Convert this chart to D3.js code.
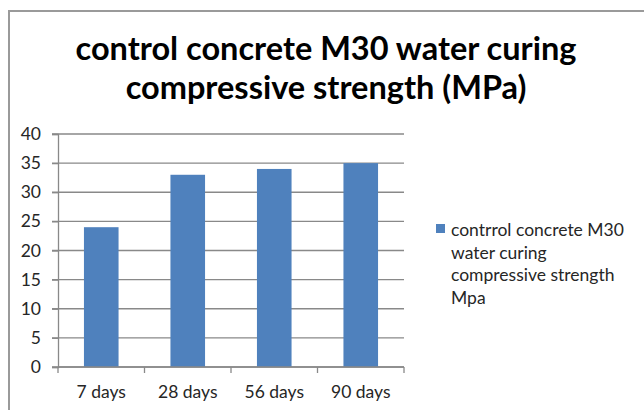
<!DOCTYPE html>
<html>
<head>
<meta charset="utf-8">
<script src="https://cdn.jsdelivr.net/npm/d3@7"></script>
<style>
  html, body { margin: 0; padding: 0; background: #fff; }
  svg { display: block; }
</style>
</head>
<body>
<svg id="chart" width="644" height="410"></svg>
<script>
const categories = ["7 days", "28 days", "56 days", "90 days"];
const values = [24, 33, 34, 35];
const yTicks = [0, 5, 10, 15, 20, 25, 30, 35, 40];
const titleLines = ["control concrete M30 water curing", "compressive strength (MPa)"];
const legendLines = ["contrrol concrete M30", "water curing", "compressive strength", "Mpa"];

const svg = d3.select("#chart");
const W = 644, H = 410;
const plot = { left: 58, right: 404, top: 134, bottom: 367 };
const barColor = "#4F81BD";
const gridColor = "#898989";
const font = "Lato, 'Open Sans', sans-serif";
const textColor = "#262626";

// chart frame
svg.append("rect")
  .attr("x", 9).attr("y", 11)
  .attr("width", W + 20).attr("height", H + 20)
  .attr("fill", "#fff")
  .attr("stroke", "#9a9a9a")
  .attr("stroke-width", 2);

// title
svg.append("g").selectAll("text")
  .data(titleLines)
  .join("text")
  .attr("x", 326)
  .attr("y", (d, i) => 60 + i * 39)
  .attr("text-anchor", "middle")
  .attr("font-family", font)
  .attr("font-weight", "bold")
  .attr("font-size", 32.5)
  .attr("fill", "#000")
  .text(d => d);

const x = d3.scaleBand()
  .domain(categories)
  .range([plot.left, plot.right])
  .paddingInner(0.6)
  .paddingOuter(0.3);

const y = d3.scaleLinear()
  .domain([0, 40])
  .range([plot.bottom, plot.top]);

// gridlines
svg.append("g").selectAll("line")
  .data(yTicks)
  .join("line")
  .attr("x1", plot.left - 6)
  .attr("x2", plot.right)
  .attr("y1", d => y(d))
  .attr("y2", d => y(d))
  .attr("stroke", gridColor)
  .attr("stroke-width", 1.3);

// y axis
const yAxis = svg.append("g")
  .attr("transform", `translate(${plot.left},0)`)
  .call(d3.axisLeft(y).tickValues(yTicks).tickSize(6).tickPadding(11).tickFormat(d3.format("d")));
yAxis.select(".domain").attr("stroke", gridColor).attr("stroke-width", 1.3);
yAxis.selectAll(".tick line").attr("stroke", gridColor).attr("stroke-width", 1.3);
yAxis.selectAll("text")
  .attr("font-family", font)
  .attr("font-size", 17.5)
  .attr("fill", textColor);

// bars
svg.append("g").selectAll("rect")
  .data(values)
  .join("rect")
  .attr("x", (d, i) => x(categories[i]))
  .attr("y", d => y(d))
  .attr("width", x.bandwidth())
  .attr("height", d => y(0) - y(d))
  .attr("fill", barColor);

// x axis
const xAxis = svg.append("g")
  .attr("transform", `translate(0,${plot.bottom})`)
  .call(d3.axisBottom(x).tickSize(0).tickPadding(19));
xAxis.select(".domain").remove();
xAxis.selectAll("text")
  .attr("font-family", font)
  .attr("font-size", 17.5)
  .attr("fill", textColor);

svg.append("line")
  .attr("x1", plot.left).attr("x2", plot.right)
  .attr("y1", plot.bottom).attr("y2", plot.bottom)
  .attr("stroke", gridColor).attr("stroke-width", 1.3);

// category boundary ticks
const step = x.step();
const boundaryX = d3.range(categories.length + 1).map(i => plot.left + i * step);
svg.append("g").selectAll("line")
  .data(boundaryX)
  .join("line")
  .attr("x1", d => d)
  .attr("x2", d => d)
  .attr("y1", plot.bottom)
  .attr("y2", plot.bottom + 6)
  .attr("stroke", gridColor)
  .attr("stroke-width", 1.3);

// legend
const legend = svg.append("g");
legend.append("rect")
  .attr("x", 436).attr("y", 224)
  .attr("width", 9).attr("height", 9)
  .attr("fill", barColor);
legend.selectAll("text")
  .data(legendLines)
  .join("text")
  .attr("x", 451)
  .attr("y", (d, i) => 236 + i * 22.5)
  .attr("font-family", font)
  .attr("font-size", 17.5)
  .attr("fill", textColor)
  .text(d => d);
</script>
</body>
</html>
